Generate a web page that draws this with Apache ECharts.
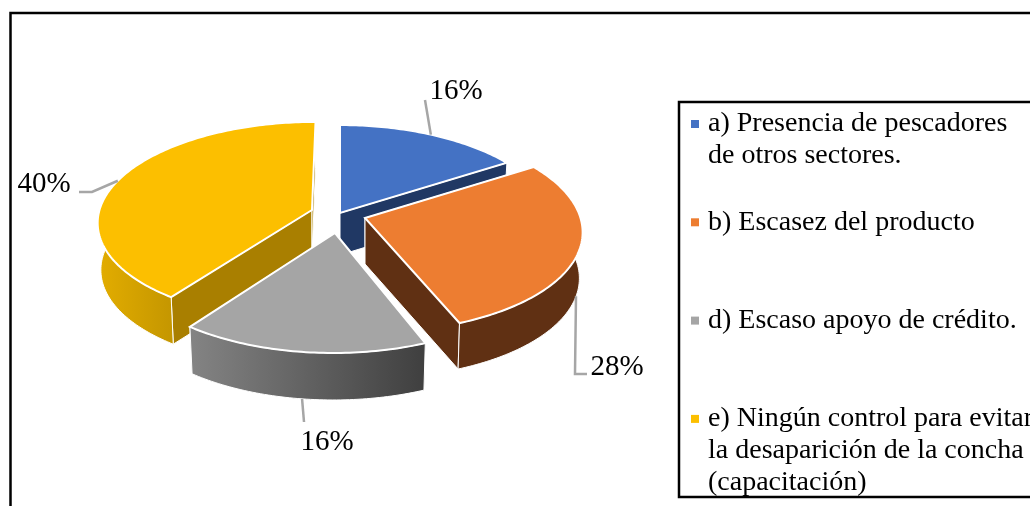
<!DOCTYPE html>
<html>
<head>
<meta charset="utf-8">
<style>
  html, body { margin: 0; padding: 0; background: #fff; overflow: hidden; }
  #chart { width: 1030px; height: 506px; }
</style>
</head>
<body>
<div id="chart"></div>
<script src="https://cdn.jsdelivr.net/npm/echarts@6/dist/echarts.min.js"></script>
<script>
const categories = [
  'a) Presencia de pescadores\nde otros sectores.',
  'b) Escasez del producto',
  'd) Escaso apoyo de crédito.',
  'e) Ningún control para evitar\nla desaparición de la concha\n(capacitación)'
]
const shares = [16, 28, 16, 40]
const topColors = ['#4472c4', '#ed7d31', '#a5a5a5', '#fcbf00']

const SERIF = '"Liberation Serif", "Times New Roman", serif'

// look of each exploded slice, the pie is tilted so back is squeezed (k = perspective)
const sliceLook = [
  { ax: 340, ay: 213, A: 214, B: 101.5, k: 0.154, skew: 0, depth: 42, z: 1, radial: '#203864', rim: ['#203864', '#203864'] },
  { ax: 365, ay: 218, A: 215.5, B: 101, k: 0.114, skew: 0.055, depth: 46, z: 3, radial: '#603013', rim: ['#603013', '#603013'] },
  { ax: 335, ay: 233, A: 214, B: 101.5, k: 0.154, skew: -0.015, depth: 47, z: 4, radial: '#7f7f7f', rim: ['#848484', '#3f3f3f'] },
  { ax: 312, ay: 210, A: 212.5, B: 98, k: 0.112, skew: -0.04, depth: 47, z: 2, radial: '#a97f00', rim: ['#e3ad00', '#c49600'] }
]
const leaderLook = [
  { tail: [[425, 100]], wall: false, label: [456, 91] },
  { tail: [[575, 374], [587, 374]], wall: true, label: [617, 367] },
  { tail: [[304, 422]], wall: true, label: [327, 442] },
  { tail: [[92, 192], [79, 192]], wall: false, label: [44, 184] }
]

const total = shares.reduce((a, b) => a + b, 0)

function startAngle(i) {
  return shares.slice(0, i).reduce((a, b) => a + b, 0) / total * 360
}

function project(look, deg, lowered) {
  const t = deg * Math.PI / 180
  const x = Math.sin(t)
  const y = -Math.cos(t)
  const d = 1 - look.k * y
  const shrink = lowered ? 0.985 : 1
  const Y = look.B * y / d
  return [
    look.ax + (look.A * x / d + look.skew * Y) * shrink,
    look.ay + Y + (lowered ? look.depth : 0)
  ]
}

function arc(look, from, to, lowered) {
  const pts = []
  const n = Math.max(2, Math.ceil(Math.abs(to - from)))
  for (let j = 0; j <= n; j++) pts.push(project(look, from + (to - from) * j / n, lowered))
  return pts
}

function renderSlice(i) {
  return function (params, api) {
    const look = sliceLook[i]
    const lead = leaderLook[i]
    const share = api.value(0)
    const from = startAngle(i)
    const to = from + share / total * 360
    const mid = (from + to) / 2
    const apex = [look.ax, look.ay]
    const apexLow = [look.ax, look.ay + look.depth]

    const radialWall = deg => ({
      type: 'polygon',
      shape: { points: [apex, project(look, deg, false), project(look, deg, true), apexLow] },
      style: { fill: look.radial, stroke: '#fff', lineWidth: 1 }
    })

    const children = [radialWall(from), radialWall(to)]

    // outer wall only on the part of the rim that faces the viewer
    const rimFrom = Math.max(from, 70)
    const rimTo = Math.min(to, 290)
    if (rimTo > rimFrom) {
      children.push({
        type: 'polygon',
        shape: { points: arc(look, rimFrom, rimTo, false).concat(arc(look, rimFrom, rimTo, true).reverse()) },
        style: {
          fill: new echarts.graphic.LinearGradient(0, 0, 1, 0, [
            { offset: 0, color: look.rim[0] },
            { offset: 1, color: look.rim[1] }
          ]),
          stroke: '#fff',
          lineWidth: 1
        }
      })
    }

    children.push(
      {
        type: 'polygon',
        shape: { points: [apex].concat(arc(look, from, to, false)) },
        style: { fill: topColors[i], stroke: '#fff', lineWidth: 2, lineJoin: 'miter' }
      },
      {
        type: 'polyline',
        shape: { points: [project(look, mid, lead.wall)].concat(lead.tail) },
        style: { fill: 'none', stroke: '#a6a6a6', lineWidth: 2.5 }
      },
      {
        type: 'text',
        style: {
          text: share + '%',
          x: lead.label[0],
          y: lead.label[1],
          align: 'center',
          verticalAlign: 'middle',
          fill: '#000',
          font: '29px ' + SERIF
        }
      }
    )
    return { type: 'group', children: children }
  }
}

// legend rows are always 3 lines tall, square drawn inline so it sits on first line
function legendText(name) {
  const i = categories.indexOf(name)
  const lines = name.split('\n')
  while (lines.length < 3) lines.push('\u00a0')
  return lines.map((line, j) => (j === 0 ? '{s' + i + '|}' : '{s|}') + '{g|}{t|' + line + '}').join('\n')
}

const legendRich = {
  t: { fontFamily: SERIF, fontSize: 28, color: '#000', lineHeight: 32 },
  s: { width: 8, height: 8 },
  g: { width: 9 }
}
topColors.forEach((c, i) => {
  legendRich['s' + i] = { width: 8, height: 8, backgroundColor: c }
})

const chart = echarts.init(document.getElementById('chart'), null, { renderer: 'canvas' })
chart.setOption({
  animation: false,
  backgroundColor: '#fff',
  legend: {
    data: categories,
    orient: 'vertical',
    left: 681,
    top: 105,
    height: 900,
    itemWidth: 0,
    itemHeight: 0,
    itemGap: 6.3,
    selectedMode: false,
    formatter: legendText,
    textStyle: { rich: legendRich }
  },
  graphic: [
    {
      type: 'rect',
      z: 10,
      shape: { x: 10.5, y: 13, width: 1100, height: 600 },
      style: { fill: 'none', stroke: '#000', lineWidth: 2.5 }
    },
    {
      type: 'rect',
      z: 10,
      shape: { x: 679, y: 102, width: 500, height: 395 },
      style: { fill: 'none', stroke: '#000', lineWidth: 2.5 }
    }
  ],
  series: categories.map((name, i) => ({
    type: 'custom',
    name: name,
    coordinateSystem: 'none',
    z: sliceLook[i].z,
    silent: true,
    itemStyle: { color: topColors[i] },
    renderItem: renderSlice(i),
    data: [{ name: name, value: [shares[i]] }]
  }))
})
</script>
</body>
</html>
